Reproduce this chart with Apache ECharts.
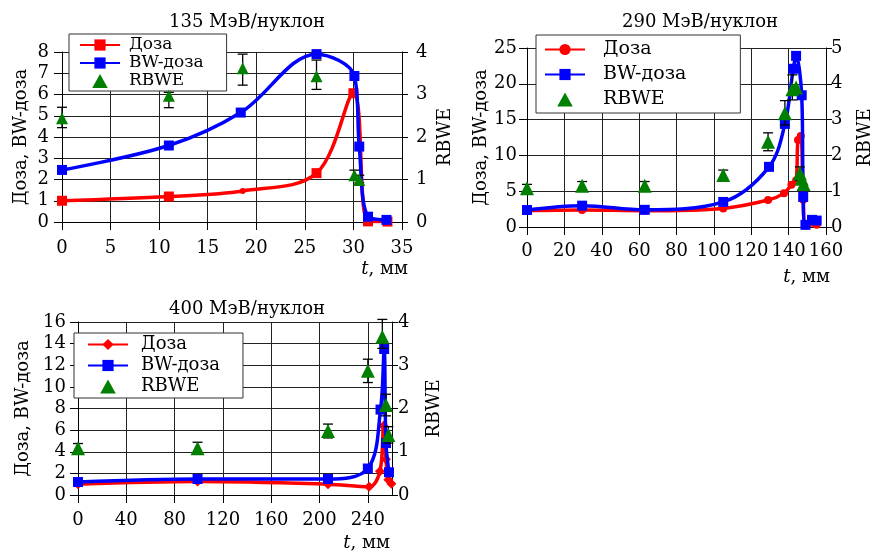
<!DOCTYPE html>
<html>
<head>
<meta charset="utf-8">
<script src="https://cdn.jsdelivr.net/npm/echarts@6/dist/echarts.min.js"></script>
<style>
  html, body { margin: 0; padding: 0; background: #fff; }
  .panel { position: absolute; left: 0; top: 0; width: 875px; height: 554px; }
</style>
</head>
<body>
<div id="p135" class="panel"></div>
<div id="p290" class="panel"></div>
<div id="p400" class="panel"></div>
<script>
// 135 MeV/nucleon
const t135Dose = [0, 11, 18.6, 26.2, 30, 31.5, 33.5]
const dose135 = [1.0, 1.2, 1.46, 2.3, 6.06, 0.03, 0.02]
const t135Bw = [0, 11, 18.4, 26.2, 30.1, 30.6, 31.5, 33.4]
const bw135 = [2.45, 3.6, 5.15, 7.9, 6.87, 3.55, 0.25, 0.1]
const t135Rbwe = [0, 11, 18.6, 26.2, 30.1, 30.6]
const rbwe135 = [2.44, 2.97, 3.62, 3.43, 1.1, 0.99]
const rbweLo135 = [2.22, 2.69, 3.22, 3.12, 1.0, 0.92]
const rbweHi135 = [2.7, 3.05, 3.95, 3.81, 1.22, 1.1]

// 290 MeV/nucleon
const t290Dose = [0, 29.5, 63, 105, 129, 137.5, 141.5, 144, 145, 146.5, 147.8, 149, 155]
const dose290 = [2.28, 2.37, 2.28, 2.6, 3.77, 4.7, 5.9, 6.5, 12.15, 12.7, 3.8, 0.25, 0.3]
const t290Bw = [0, 29.5, 63, 105, 129.5, 138, 142.5, 144, 147, 147.8, 149, 152.5, 155]
const bw290 = [2.37, 2.98, 2.4, 3.5, 8.4, 14.4, 22.1, 23.9, 18.4, 4.2, 0.3, 1.0, 0.9]
const t290Rbwe = [0, 29.5, 63, 105, 129, 138, 142, 144, 146, 147, 148]
const rbwe290 = [1.08, 1.15, 1.15, 1.45, 2.38, 3.18, 3.85, 3.9, 1.5, 1.35, 1.2]
const rbweLo290 = [0.97, 1.03, 1.03, 1.31, 2.13, 2.85, 3.55, null, 1.3, null, null]
const rbweHi290 = [1.19, 1.27, 1.27, 1.59, 2.63, 3.53, 4.25, null, 1.68, null, null]

// 400 MeV/nucleon
const t400Dose = [0, 99, 207, 241, 250, 253, 255, 257, 259.5]
const dose400 = [1.0, 1.25, 1.0, 0.77, 2.2, 6.4, 3.3, 1.4, 1.05]
const t400Bw = [0, 99, 207, 240, 250.5, 253.5, 255, 257.5]
const bw400 = [1.2, 1.48, 1.48, 2.45, 7.9, 13.5, 4.8, 2.1]
const t400Rbwe = [0, 99, 207, 240, 252, 255, 257]
const rbwe400 = [1.08, 1.08, 1.48, 2.87, 3.66, 2.08, 1.39]
const rbweLo400 = [0.97, 0.95, 1.32, 2.6, 3.39, 1.83, 1.2]
const rbweHi400 = [1.19, 1.22, 1.64, 3.14, 4.06, 2.33, 1.58]

const FONT = "'DejaVu Serif', 'Liberation Serif', serif"
const FS = 18
const RED = '#ff0000'
const BLUE = '#0000ff'
const GREEN = '#007f00'
const TRI = 'path://M5,0 L10,9 L0,9 Z'

function zip (xs, ys) {
  return xs.map((x, i) => [x, ys[i]])
}

function errData (xs, lo, hi) {
  const out = []
  xs.forEach((x, i) => {
    if (lo[i] != null) out.push([x, lo[i], hi[i]])
  })
  return out
}

function makePanel (id, p) {
  const chart = echarts.init(document.getElementById(id))
  const line = { show: true, onZero: false, lineStyle: { color: '#000', width: 1 } }
  chart.setOption({
    animation: false,
    textStyle: { fontFamily: FONT },
    grid: p.grid,
    graphic: [
      { type: 'text', x: p.title[0], y: p.title[1],
        style: { text: p.title[2], fill: '#000', font: FS + 'px ' + FONT, align: 'center', verticalAlign: 'middle' } },
      { type: 'text', x: p.tname[0], y: p.tname[1],
        style: { text: '{i|t}, мм', fill: '#000', font: FS + 'px ' + FONT, align: 'right', verticalAlign: 'middle',
          rich: { i: { fontStyle: 'italic', fontSize: FS, fontFamily: FONT } } } }
    ],
    legend: {
      orient: 'vertical',
      left: p.legend.left,
      top: p.legend.top,
      itemGap: p.legend.gap,
      padding: p.legend.padding,
      itemWidth: 40,
      itemHeight: 14,
      backgroundColor: '#fff',
      borderColor: '#333',
      borderWidth: 1,
      textStyle: { color: '#000', fontFamily: FONT, fontSize: p.legend.font, lineHeight: p.legend.lh, padding: [0, 0, 0, p.legend.tpad] },
      data: ['Доза', 'BW-доза', { name: 'RBWE', icon: TRI }]
    },
    xAxis: {
      type: 'value',
      min: 0,
      max: p.xmax,
      interval: p.xint,
      axisLine: line,
      axisTick: { show: true, length: 8, lineStyle: { color: '#000' } },
      splitLine: { show: true, lineStyle: { color: '#222', width: 1 } },
      axisLabel: { color: '#000', fontFamily: FONT, fontSize: FS, margin: p.xmargin, showMaxLabel: p.showMax }
    },
    yAxis: [
      {
        type: 'value',
        min: 0,
        max: p.ymax,
        interval: p.yint,
        axisLine: line,
        axisTick: { show: true, length: 8, lineStyle: { color: '#000' } },
        axisLabel: { color: '#000', fontFamily: FONT, fontSize: FS, margin: p.lmargin },
        name: 'Доза, BW-доза',
        nameLocation: 'middle',
        nameRotate: 90,
        nameGap: p.lgap,
        nameTextStyle: { color: '#000', fontFamily: FONT, fontSize: FS },
        splitLine: { show: true, lineStyle: { color: '#222', width: 1 } }
      },
      {
        type: 'value',
        position: 'right',
        min: 0,
        max: p.rmax,
        interval: 1,
        axisLine: line,
        axisTick: { show: true, length: 6, lineStyle: { color: '#000' } },
        axisLabel: { color: '#000', fontFamily: FONT, fontSize: FS, margin: p.rmargin },
        name: 'RBWE',
        nameLocation: 'middle',
        nameRotate: 90,
        nameGap: p.rgap,
        nameTextStyle: { color: '#000', fontFamily: FONT, fontSize: FS },
        splitLine: { show: false }
      }
    ],
    series: [
      {
        name: 'Доза',
        type: 'line',
        smooth: 0.35,
        data: p.dose,
        symbol: p.doseSymbol,
        symbolSize: p.doseSize,
        itemStyle: { color: RED },
        lineStyle: { color: RED, width: 3.5 },
        z: 2
      },
      {
        name: 'BW-доза',
        type: 'line',
        smooth: 0.35,
        data: p.bw,
        symbol: 'rect',
        symbolSize: p.bwSize,
        itemStyle: { color: BLUE },
        lineStyle: { color: BLUE, width: 3.5 },
        z: 3
      },
      {
        type: 'custom',
        yAxisIndex: 1,
        silent: true,
        data: p.err,
        encode: { x: 0, y: [1, 2] },
        renderItem: function (params, api) {
          const lo = api.coord([api.value(0), api.value(1)])
          const hi = api.coord([api.value(0), api.value(2)])
          const w = 5
          const st = { stroke: '#000', lineWidth: 1.3 }
          return {
            type: 'group',
            children: [
              { type: 'line', shape: { x1: lo[0], y1: lo[1], x2: hi[0], y2: hi[1] }, style: st },
              { type: 'line', shape: { x1: lo[0] - w, y1: lo[1], x2: lo[0] + w, y2: lo[1] }, style: st },
              { type: 'line', shape: { x1: hi[0] - w, y1: hi[1], x2: hi[0] + w, y2: hi[1] }, style: st }
            ]
          }
        },
        z: 4
      },
      {
        name: 'RBWE',
        type: 'scatter',
        yAxisIndex: 1,
        data: p.rbwe,
        symbol: 'triangle',
        symbolSize: p.triSize,
        itemStyle: { color: GREEN, opacity: 1 },
        z: 5
      }
    ]
  })
  return chart
}

const dose135Pts = zip(t135Dose, dose135)
// the point at 18.6 mm is drawn with a small dot in the original
dose135Pts[2] = { value: dose135Pts[2], symbol: 'circle', symbolSize: 6 }

makePanel('p135', {
  grid: { left: 62, top: 52, width: 340, height: 170 },
  title: [247, 22, '135 МэВ/нуклон'],
  tname: [408, 269],
  legend: { left: 69, top: 34, gap: 0, padding: [2, 23, 1, 10], font: 17, lh: 18, tpad: 4 },
  xmax: 35, xint: 5, showMax: true, xmargin: 17,
  ymax: 8, yint: 1, rmax: 4,
  lmargin: 13, rmargin: 14,
  lgap: 32, rgap: 34,
  dose: dose135Pts, doseSymbol: 'rect', doseSize: 10,
  bw: zip(t135Bw, bw135), bwSize: 10,
  rbwe: zip(t135Rbwe, rbwe135), triSize: 12,
  err: errData(t135Rbwe, rbweLo135, rbweHi135)
})

makePanel('p290', {
  grid: { left: 527, top: 48, width: 299, height: 179 },
  title: [700, 22, '290 МэВ/нуклон'],
  tname: [830, 277],
  legend: { left: 536, top: 35, gap: 6, padding: [5, 54, 4, 8], font: 19, lh: 19, tpad: 13 },
  xmax: 160, xint: 20, showMax: true, xmargin: 15,
  ymax: 25, yint: 5, rmax: 5,
  lmargin: 10, rmargin: 5,
  lgap: 35, rgap: 30,
  dose: zip(t290Dose, dose290), doseSymbol: 'circle', doseSize: 8,
  bw: zip(t290Bw, bw290), bwSize: 10,
  rbwe: zip(t290Rbwe, rbwe290), triSize: 14,
  err: errData(t290Rbwe, rbweLo290, rbweHi290)
})

makePanel('p400', {
  grid: { left: 78, top: 322, width: 314, height: 173 },
  title: [247, 309, '400 МэВ/нуклон'],
  tname: [390, 543],
  legend: { left: 74, top: 333, gap: 2, padding: [2, 23, 2, 13], font: 18, lh: 19, tpad: 8 },
  xmax: 260, xint: 40, showMax: false, xmargin: 16,
  ymax: 16, yint: 2, rmax: 4,
  lmargin: 12, rmargin: 6,
  lgap: 46, rgap: 33,
  dose: zip(t400Dose, dose400), doseSymbol: 'diamond', doseSize: 10,
  bw: zip(t400Bw, bw400), bwSize: 10,
  rbwe: zip(t400Rbwe, rbwe400), triSize: 14,
  err: errData(t400Rbwe, rbweLo400, rbweHi400)
})
</script>
</body>
</html>
